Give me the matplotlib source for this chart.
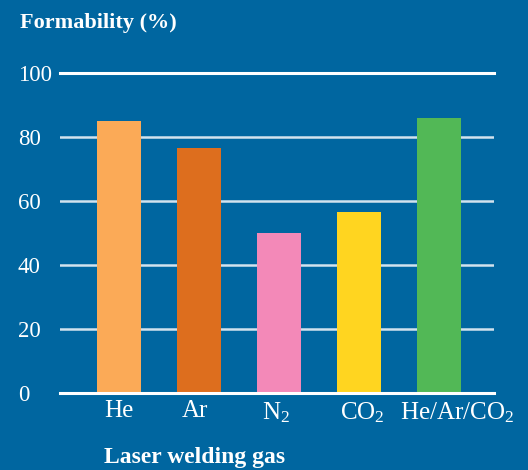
import matplotlib.pyplot as plt
import matplotlib.transforms as mtransforms

# Data
gases = ["He", "Ar", "$\\mathregular{N_2}$", "$\\mathregular{CO_2}$", "$\\mathregular{He/Ar/CO_2}$"]
formability = [85, 76.5, 50, 56.5, 86]
bar_colors = ["#FBAA57", "#DD6E1E", "#F389B8", "#FFD520", "#52B856"]
y_ticks = [0, 20, 40, 60, 80, 100]

bg = "#0066A0"
plt.rcParams["font.family"] = ["Liberation Serif", "DejaVu Serif"]
plt.rcParams["mathtext.fontset"] = "custom"
plt.rcParams["mathtext.rm"] = "Liberation Serif"

fig = plt.figure(figsize=(5.28, 4.70), dpi=100, facecolor=bg)
ax = fig.add_axes([0.1136, 0.1638, 0.822, 0.681], facecolor=bg)

x = list(range(len(gases)))
ax.bar(x, formability, width=0.55, color=bar_colors, zorder=3)

# grid lines
for v in y_ticks[1:-1]:
    ax.axhline(v, color="#D2E2EE", lw=1.8, zorder=1)
ax.axhline(100, color="white", lw=2.2, zorder=1, clip_on=False)
ax.axhline(0, color="white", lw=2.2, zorder=4, clip_on=False)

ax.set_xlim(-0.74, 4.69)
ax.set_ylim(0, 100)
for s in ax.spines.values():
    s.set_visible(False)

ax.set_yticks(y_ticks)
ax.set_yticklabels([str(v) for v in y_ticks])
ax.tick_params(axis="y", length=0, labelcolor="white", labelsize=16.5, pad=0)
for lab in ax.get_yticklabels():
    lab.set_horizontalalignment("left")
    lab.set_x(-0.097)

ax.set_xticks(x)
ax.set_xticklabels(gases)
ax.tick_params(axis="x", length=0, labelcolor="white", labelsize=18, pad=5)
shifts = [0, -4, -3, 3, 18]
for lab, dx in zip(ax.get_xticklabels(), shifts):
    lab.set_transform(lab.get_transform() + mtransforms.ScaledTranslation(dx / 100, 0, fig.dpi_scale_trans))

# Labels
fig.text(0.038, 0.952, "Formability (%)", color="white", fontsize=16,
         fontweight="bold", va="center", ha="left")
fig.text(0.197, 0.026, "Laser welding gas", color="white", fontsize=17,
         fontweight="bold", va="center", ha="left")

fig.savefig("out.png", dpi=100, facecolor=bg)
